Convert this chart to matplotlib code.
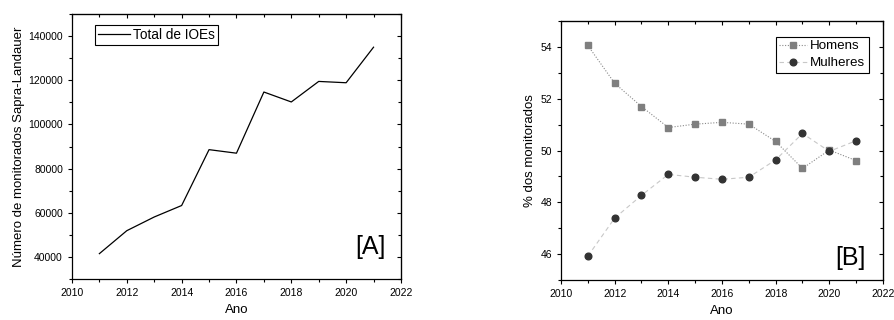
import matplotlib
matplotlib.use("Agg")
import matplotlib.pyplot as plt
from matplotlib.ticker import MultipleLocator

plt.rcParams['font.family'] = ['Liberation Sans', 'DejaVu Sans']

# dados
anos = [2011, 2012, 2013, 2014, 2015, 2016, 2017, 2018, 2019, 2020, 2021]
total_ioes = [41500, 51900, 58100, 63300, 88600, 87000, 114700, 110200, 119500, 118900, 135000]
homens = [54.06, 52.60, 51.70, 50.89, 51.02, 51.09, 51.02, 50.35, 49.31, 50.02, 49.61]
mulheres = [45.92, 47.39, 48.27, 49.08, 48.97, 48.89, 48.97, 49.64, 50.66, 49.97, 50.38]


def estilo_eixos(ax, minor_y):
    ax.tick_params(axis='both', which='both', labelsize=7.5, width=0.8)
    ax.tick_params(which='major', length=3)
    ax.tick_params(which='minor', length=2)
    ax.tick_params(axis='x', which='both', direction='out', top=False)
    ax.tick_params(axis='y', which='both', direction='out', right=False)
    for s in ax.spines.values():
        s.set_linewidth(0.9)
    # ticks internos em cima e a direita
    axt = ax.secondary_xaxis('top')
    axt.set_xticks(ax.get_xticks())
    axt.xaxis.set_minor_locator(MultipleLocator(1))
    axt.tick_params(which='both', direction='in', labeltop=False, width=0.8)
    axt.tick_params(which='major', length=3)
    axt.tick_params(which='minor', length=2)
    axr = ax.secondary_yaxis('right')
    axr.set_yticks(ax.get_yticks())
    axr.yaxis.set_minor_locator(MultipleLocator(minor_y))
    axr.tick_params(which='both', direction='in', labelright=False, width=0.8)
    axr.tick_params(which='major', length=3)
    axr.tick_params(which='minor', length=2)


fig = plt.figure(figsize=(8.94, 3.2), dpi=100)

# Painel A
ax1 = fig.add_axes([0.0805, 0.128, 0.368, 0.828])
ax1.plot(anos, total_ioes, color='black', lw=0.9, label='Total de IOEs')
ax1.set_xlim(2010, 2022)
ax1.set_ylim(30000, 150000)
ax1.set_xticks(range(2010, 2023, 2))
ax1.set_yticks(range(40000, 140001, 20000))
ax1.xaxis.set_minor_locator(MultipleLocator(1))
ax1.yaxis.set_minor_locator(MultipleLocator(10000))
ax1.set_xlabel('Ano', fontsize=9.5, labelpad=4)
ax1.set_ylabel('Número de monitorados Sapra-Landauer', fontsize=9.5, labelpad=2)
estilo_eixos(ax1, 10000)
ax1.legend(loc='upper left', bbox_to_anchor=(0.07, 0.958), fontsize=9.8, frameon=True,
           fancybox=False, edgecolor='black', framealpha=1, handlelength=2.4,
           borderpad=0.2, handletextpad=0.2, borderaxespad=0)
ax1.get_legend().get_frame().set_linewidth(0.8)
ax1.text(0.952, 0.12, '[A]', transform=ax1.transAxes, fontsize=18,
         ha='right', va='center')

# Painel B
ax2 = fig.add_axes([0.6275, 0.125, 0.3602, 0.809])
ax2.plot(anos, homens, color='#8a8a8a', lw=0.8, ls=(0, (1, 1.5)), marker='s',
         ms=4.5, mfc='#7f7f7f', mec='#7f7f7f', label='Homens')
ax2.plot(anos, mulheres, color='#c8c8c8', lw=0.8, ls=(0, (4, 3)), marker='o',
         ms=4.8, mfc='#333333', mec='#333333', label='Mulheres')
ax2.set_xlim(2010, 2022)
ax2.set_ylim(45, 55)
ax2.set_xticks(range(2010, 2023, 2))
ax2.set_yticks(range(46, 55, 2))
ax2.xaxis.set_minor_locator(MultipleLocator(1))
ax2.yaxis.set_minor_locator(MultipleLocator(1))
ax2.set_xlabel('Ano', fontsize=9.5, labelpad=4)
ax2.set_ylabel('% dos monitorados', fontsize=9.5, labelpad=3)
estilo_eixos(ax2, 1)
ax2.legend(loc='upper right', bbox_to_anchor=(0.955, 0.94), fontsize=9.6, frameon=True,
           fancybox=False, edgecolor='black', framealpha=1, handlelength=2.1,
           borderpad=0.25, handletextpad=0.2, labelspacing=0.35, borderaxespad=0)
ax2.get_legend().get_frame().set_linewidth(0.8)
ax2.text(0.945, 0.085, '[B]', transform=ax2.transAxes, fontsize=18,
         ha='right', va='center')

fig.savefig('out.png', dpi=100)
